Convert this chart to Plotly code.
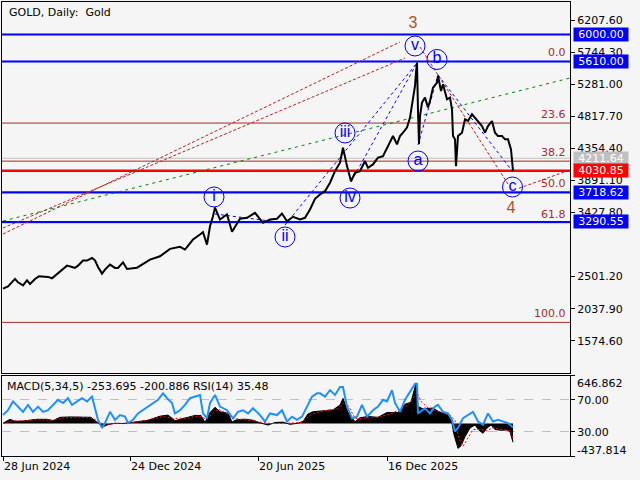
import plotly.graph_objects as go

# ---------------- data ----------------
price_bar = [0, 5, 12, 15, 20, 24, 27, 32, 36, 40, 45, 49, 52, 57, 60, 64, 69, 72, 75, 80, 84, 89, 92, 95, 99,
             102, 107, 112, 115, 120, 124, 129, 134, 147, 157, 167, 177, 182, 190, 197, 200, 204, 207, 210, 212,
             217, 224, 229, 237, 244, 252, 260, 267, 274, 279, 284, 290, 297, 302, 307, 312, 317, 322, 327, 332,
             337, 340, 344, 348, 352, 357, 362, 365, 370, 375, 380, 384, 387, 390, 394, 397, 400, 404, 407, 409,
             412, 413, 414, 415, 416, 417, 419, 422, 425, 427, 430, 434, 435, 438, 440, 444, 447, 449, 450, 452,
             453, 455, 459, 462, 465, 469, 472, 475, 479, 482, 485, 489, 492, 495, 499, 502, 505, 508, 510]
price_val = [2327, 2360, 2468, 2419, 2375, 2448, 2396, 2468, 2505, 2497, 2497, 2477, 2515, 2578, 2603, 2660, 2641,
             2627, 2660, 2733, 2733, 2772, 2737, 2641, 2545, 2603, 2675, 2627, 2627, 2708, 2612, 2617, 2630, 2747,
             2795, 2902, 2931, 2892, 3037, 3109, 3143, 2964, 3229, 3374, 3500, 3326, 3399, 3150, 3337, 3351, 3423,
             3278, 3326, 3337, 3413, 3302, 3366, 3326, 3351, 3471, 3626, 3688, 3736, 3858, 4026, 4148, 4365, 4098,
             3880, 4003, 4026, 4171, 4075, 4123, 4220, 4243, 4365, 4437, 4533, 4412, 4533, 4581, 4654, 4799, 4967,
             5256, 5450, 5595, 4900, 4420, 4822, 5016, 5088, 4944, 5039, 5233, 5305, 5401, 5184, 5281, 5064, 5088,
             4919, 4533, 4485, 4098, 4533, 4581, 4774, 4750, 4847, 4799, 4750, 4677, 4581, 4677, 4750, 4581, 4533,
             4533, 4485, 4485, 4340, 4031]

macd_bar = [0, 7, 12, 20, 34, 44, 50, 57, 67, 80, 88, 92, 97, 100, 105, 112, 120, 127, 135, 145, 157, 165, 172,
            182, 192, 198, 202, 207, 212, 217, 225, 229, 233, 242, 250, 257, 265, 272, 280, 287, 295, 300, 305, 310,
            317, 322, 330, 337, 340, 344, 348, 352, 357, 365, 375, 384, 395, 402, 408, 413, 415, 420, 430, 436, 442,
            447, 449, 451, 455, 458, 462, 467, 472, 476, 480, 484, 488, 492, 498, 504, 507, 510]
macd_val = [5, 58, 30, 35, 58, 58, 40, 85, 90, 90, 85, 40, -10, -42, -15, 5, 0, 10, 30, 45, 100, 115, 40, 70, 110,
            110, 15, 150, 220, 160, 140, 20, 50, 60, 45, 10, -20, 15, 20, -10, 5, 30, 130, 160, 170, 175, 185, 250,
            340, 200, 95, 25, 80, 95, 85, 150, 150, 260, 290, 545, 230, 200, 210, 160, 130, 110, 0, -150, -335, -300,
            -177, -60, -20, -90, -130, -60, -20, -80, -90, -85, -110, -253.695]

signal_bar = [0, 10, 20, 35, 50, 60, 75, 90, 98, 103, 110, 125, 140, 160, 170, 185, 196, 203, 210, 215, 222, 230,
              240, 255, 268, 285, 298, 308, 320, 335, 342, 347, 352, 360, 375, 390, 405, 414, 418, 425, 438, 447, 452,
              456, 460, 465, 470, 478, 484, 490, 498, 507, 510]
signal_val = [0, 40, 35, 50, 45, 75, 88, 70, 10, -20, 0, 5, 35, 95, 70, 75, 105, 60, 140, 195, 150, 70, 55, 25, 0,
              5, 15, 120, 170, 200, 300, 200, 70, 70, 85, 145, 250, 420, 300, 210, 160, 115, 40, -200, -310, -200,
              -80, -80, -100, -50, -80, -95, -200.886]

rsi_bar = [0, 5, 10, 15, 20, 25, 30, 35, 40, 45, 50, 55, 60, 65, 69, 74, 79, 84, 89, 92, 95, 99, 102, 107, 112, 117,
           122, 125, 130, 135, 140, 145, 150, 155, 160, 164, 169, 172, 177, 182, 187, 192, 197, 200, 204, 207, 212,
           217, 224, 230, 235, 240, 245, 250, 257, 262, 267, 274, 279, 284, 289, 294, 299, 304, 309, 314, 317, 322,
           327, 332, 337, 340, 344, 349, 354, 359, 364, 370, 375, 380, 384, 389, 392, 397, 402, 407, 412, 414, 415,
           417, 422, 427, 432, 435, 440, 445, 449, 452, 455, 460, 465, 470, 475, 480, 485, 490, 495, 500, 505, 510]
rsi_val = [51, 57, 68, 61.5, 55, 63.6, 55, 61.5, 55, 57, 63.6, 70, 66, 72, 63.6, 68, 72, 68, 74, 59.5, 45, 35, 41,
           55, 45, 51, 49, 41, 45, 53, 57, 61.5, 66, 70, 78, 72, 66, 53, 57, 63.6, 72, 74, 76, 53, 47, 66, 76, 61.5,
           57, 47, 55, 57, 53, 59.5, 51, 43, 53, 51, 57, 43, 49, 45, 49, 61.5, 74, 78, 78, 74, 82, 76, 86, 86, 61.5,
           47, 49, 63.6, 49, 57, 61.5, 70, 68, 82, 66, 55, 70, 80, 90, 90, 53, 55, 59.5, 53, 61.5, 63.6, 55, 53, 45,
           30.6, 35, 47, 51, 55, 43, 39, 53, 43, 45, 43, 41, 35.48]

x_tick_bars = [0, 127, 255, 384]
x_tick_text = ["28 Jun 2024", "24 Dec 2024", "20 Jun 2025", "16 Dec 2025"]
y_tick_vals = [6207.60, 5744.30, 5281.00, 4817.70, 4354.40, 3891.10, 3427.80, 2501.20, 2037.90, 1574.60]

blue_levels = [6000.00, 5610.00, 3718.62, 3290.55]
bid_level = 4030.85
silver_level = 4211.64

fib_high = 5610.0
fib_low = 1840.0
fib_ratios = [0.0, 23.6, 38.2, 50.0, 61.8, 100.0]

wave_text = ["i", "ii", "iii", "iv", "v", "a", "b", "c"]
wave_bar = [211, 282, 342, 347, 412, 415, 434, 509.5]
wave_price = [3652, 3074, 4577, 3637, 5834, 4172, 5639, 3796]

degree_text = ["3", "4"]
degree_bar = [410, 508]
degree_price = [6152, 3478]

# trend lines: (bar0, price0, bar1, price1)
blue_lines = [(212, 3406, 283, 3276), (282, 3247, 414, 5588), (348, 3869, 414, 5588),
              (415, 4403, 435, 5415), (435, 5415, 510, 4013)]
brown_lines = [(0, 3204, 402, 5660), (0, 3117, 397, 5892), (417, 5819, 505, 3840), (516, 3778, 567, 4043)]
green_lines = [(0, 3305, 567, 5371)]

macd_max = 646.862
macd_min = -437.814

# ---------------- figure ----------------
BG = "#F5F5F5"
FONT = "DejaVu Sans"
BROWN = "#A52A2A"
fig = go.Figure()

for (b0, p0, b1, p1) in green_lines:
    fig.add_trace(go.Scatter(x=[b0, b1], y=[p0, p1], mode="lines",
                             line=dict(color="#008000", width=1, dash="3px,4px"), xaxis="x", yaxis="y"))
for (b0, p0, b1, p1) in brown_lines:
    fig.add_trace(go.Scatter(x=[b0, b1], y=[p0, p1], mode="lines",
                             line=dict(color="#B22222", width=1, dash="3px,2px"), xaxis="x", yaxis="y"))
for (b0, p0, b1, p1) in blue_lines:
    fig.add_trace(go.Scatter(x=[b0, b1], y=[p0, p1], mode="lines",
                             line=dict(color="#0000FF", width=1, dash="3px,3px"), xaxis="x", yaxis="y"))

fig.add_trace(go.Scatter(x=price_bar, y=price_val, mode="lines",
                         line=dict(color="black", width=2), xaxis="x", yaxis="y"))

fig.add_trace(go.Scatter(x=wave_bar, y=wave_price, mode="markers+text", text=wave_text,
                         textposition="middle center",
                         textfont=dict(family="Liberation Sans", size=16, color="#0000FF"),
                         marker=dict(symbol="circle-open", size=20, color="#0000FF", line=dict(width=1)),
                         cliponaxis=False, xaxis="x", yaxis="y"))
fig.add_trace(go.Scatter(x=degree_bar, y=degree_price, mode="text", text=degree_text,
                         textposition="middle center",
                         textfont=dict(family="Liberation Sans", size=16, color="#B0502A"),
                         cliponaxis=False, xaxis="x", yaxis="y"))

# indicator panel
fig.add_trace(go.Scatter(x=macd_bar, y=macd_val, mode="lines", fill="tozeroy", fillcolor="black",
                         line=dict(color="black", width=1), xaxis="x2", yaxis="y2"))
fig.add_trace(go.Scatter(x=signal_bar, y=signal_val, mode="lines",
                         line=dict(color="#FF0000", width=1, dash="2px,2px"), xaxis="x2", yaxis="y2"))
fig.add_trace(go.Scatter(x=rsi_bar, y=rsi_val, mode="lines",
                         line=dict(color="#1E90FF", width=2), xaxis="x2", yaxis="y3"))

shapes = []
for r in fib_ratios:
    lvl = fib_high - (fib_high - fib_low) * r / 100.0
    shapes.append(dict(type="line", xref="x domain", x0=0, x1=1, yref="y", y0=lvl, y1=lvl,
                       line=dict(color=BROWN, width=1), layer="below"))
for lvl in blue_levels:
    shapes.append(dict(type="line", xref="x domain", x0=0, x1=1, yref="y", y0=lvl, y1=lvl,
                       line=dict(color="#0000FF", width=2), layer="below"))
shapes.append(dict(type="line", xref="x domain", x0=0, x1=1, yref="y", y0=silver_level, y1=silver_level,
                   line=dict(color="#C0C0C0", width=1), layer="below"))
shapes.append(dict(type="line", xref="x domain", x0=0, x1=1, yref="y", y0=bid_level, y1=bid_level,
                   line=dict(color="#FF0000", width=2.5), layer="below"))

annotations = []
XR = 573.0 / 640
for lvl, col in [(b, "#0000FF") for b in blue_levels] + [(silver_level, "#C0C0C0"), (bid_level, "#FF0000")]:
    annotations.append(dict(xref="paper", x=XR, xanchor="left", yref="y", y=lvl, yanchor="middle",
                            text="%.2f" % lvl, showarrow=False, bgcolor=col, width=52, height=11,
                            borderpad=1, align="center",
                            font=dict(family=FONT, size=11, color="white")))
for r in fib_ratios:
    lvl = fib_high - (fib_high - fib_low) * r / 100.0
    annotations.append(dict(xref="paper", x=568.0 / 640, xanchor="right", yref="y", y=lvl, yanchor="bottom",
                            yshift=0, text="%.1f" % r, showarrow=False,
                            font=dict(family=FONT, size=11, color=BROWN)))
annotations.append(dict(xref="paper", x=7.0 / 640, xanchor="left", yref="paper", y=1 - 12.0 / 480,
                        yanchor="middle", text="GOLD, Daily:\u00a0 Gold", showarrow=False,
                        font=dict(family=FONT, size=11, color="black")))
annotations.append(dict(xref="paper", x=5.0 / 640, xanchor="left", yref="paper", y=1 - 386.0 / 480,
                        yanchor="middle",
                        text="MACD(5,34,5) %.3f %.3f RSI(14) %.2f" % (macd_val[-1], signal_val[-1], rsi_val[-1]),
                        showarrow=False, font=dict(family=FONT, size=11, color="black")))
annotations.append(dict(xref="paper", x=575.0 / 640, xanchor="left", yref="paper", y=1 - 383.0 / 480,
                        yanchor="middle", text="%.3f" % macd_max, showarrow=False,
                        font=dict(family=FONT, size=11, color="black")))
annotations.append(dict(xref="paper", x=575.0 / 640, xanchor="left", yref="paper", y=1 - 450.0 / 480,
                        yanchor="middle", text="%.3f" % macd_min, showarrow=False,
                        font=dict(family=FONT, size=11, color="black")))

xdom = [2.0 / 640, 570.0 / 640]
xr = [-1, 567]
common_axis = dict(showgrid=False, zeroline=False, showline=True, mirror=True, linecolor="black",
                   linewidth=1, automargin=False)
tickfont = dict(family=FONT, size=11, color="black")

fig.update_layout(
    width=640, height=480, margin=dict(l=0, r=0, t=0, b=0, pad=0),
    paper_bgcolor=BG, plot_bgcolor=BG, showlegend=False,
    xaxis=dict(domain=xdom, range=xr, anchor="y", showticklabels=False, ticks="", **common_axis),
    xaxis2=dict(domain=xdom, range=xr, anchor="y2", matches="x", tickvals=x_tick_bars, ticktext=x_tick_text,
                ticks="outside", ticklen=4, tickcolor="black", tickfont=tickfont,
                ticklabelposition="outside right", **common_axis),
    yaxis=dict(domain=[1 - 373.3 / 480, 1 - 2.3 / 480], range=[1104.3, 6465.3], anchor="x", side="right",
               tickvals=y_tick_vals, ticktext=["%.2f" % v for v in y_tick_vals], ticks="outside", ticklen=4,
               tickcolor="black", tickfont=tickfont, **common_axis),
    yaxis2=dict(domain=[1 - 456.0 / 480, 1 - 375.7 / 480], range=[macd_min, macd_max], anchor="x2",
                side="right", tickvals=[macd_max, macd_min], ticktext=["", ""], ticks="outside", ticklen=4,
                tickcolor="black", tickfont=tickfont, **common_axis),
    yaxis3=dict(overlaying="y2", anchor="x2", side="right", range=[0, 100], tickvals=[70, 30],
                ticktext=["70.00", "30.00"], ticks="outside", ticklen=4, tickcolor="black", tickfont=tickfont,
                showgrid=True, gridcolor="#C0C0C0", griddash="dash", gridwidth=1, zeroline=False,
                showline=False, automargin=False),
    shapes=shapes, annotations=annotations,
)

fig.write_html("out.html", config={"displayModeBar": False})
